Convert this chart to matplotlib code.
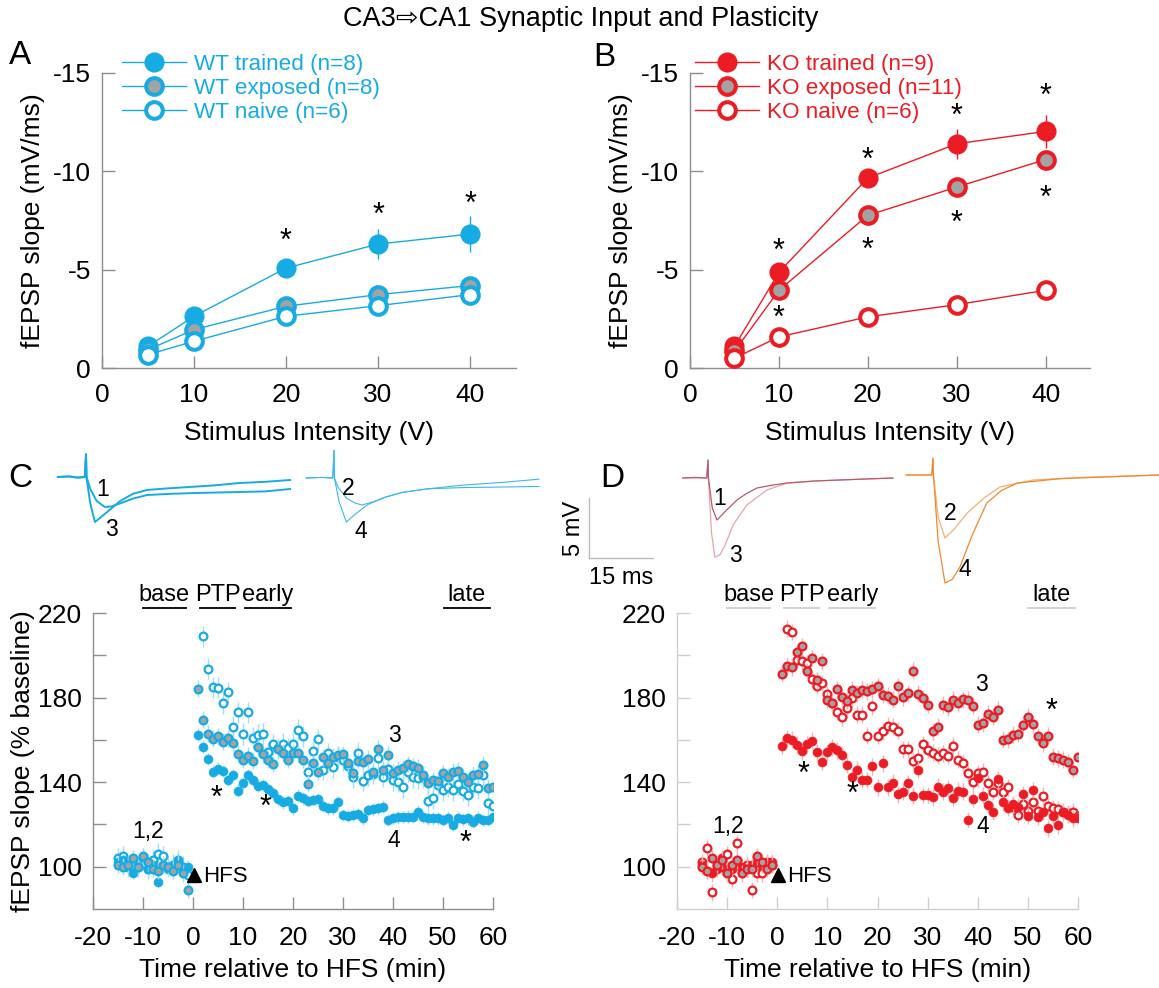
import numpy as np
import matplotlib
matplotlib.use("Agg")
import matplotlib.pyplot as plt
from matplotlib.lines import Line2D

plt.rcParams['font.family'] = ['Liberation Sans', 'DejaVu Sans']
plt.rcParams['axes.unicode_minus'] = False

# ---------------- data ----------------
intensity = [5, 10, 20, 30, 40]
wt_trained = [-1.1, -2.63, -5.08, -6.3, -6.81]
wt_trained_err = [0.2, 0.25, 0.3, 0.78, 0.9]
wt_exposed = [-0.93, -1.95, -3.14, -3.73, -4.19]
wt_naive = [-0.68, -1.36, -2.63, -3.17, -3.73]
ko_trained = [-1.1, -4.86, -9.66, -11.4, -12.03]
ko_trained_err = [0.2, 0.3, 0.3, 0.76, 0.85]
ko_exposed = [-0.85, -3.95, -7.76, -9.2, -10.6]
ko_naive = [-0.5, -1.58, -2.6, -3.22, -3.95]

time_base = list(range(-15, 0))
time_post = list(range(1, 61))

wt_tr_base = [102, 103, 101, 97, 100, 104, 99, 101, 93, 100, 99, 100, 102, 98, 100]
wt_ex_base = [101, 100, 101, 104, 100, 105, 102, 99, 98, 101, 100, 98, 101, 97, 89]
wt_na_base = [104, 105, 100, 103, 100, 104, 99, 103, 106, 105, 100, 101, 103, 100, 96]
wt_tr_post = [162.4, 156.8, 151, 145, 146.3, 145.3, 141, 143.4, 136, 139.5,
              143.4, 141, 138.4, 138.7, 136.8, 134.7, 131.9, 130.5, 131.1, 127.6,
              133.6, 132.4, 131.1, 131.6, 132.1, 128.7, 127.6, 127.6, 130.5, 124.5,
              124, 124.5, 125, 122.9, 126.8, 127.2, 127.6, 128.4, 122.1, 122.9,
              123.4, 123.5, 123.7, 123.5, 126, 123.5, 122.9, 122.9, 122.9, 122.1,
              123.2, 119.7, 123.2, 122.4, 122.9, 121.3, 123.2, 122.1, 122.1, 123.4]
wt_ex_post = [184.2, 169.5, 162.8, 160.5, 161.6, 159.2, 160.8, 158.7, 153.4, 150.5,
              152.4, 150.2, 156.4, 153.2, 150.5, 148.6, 155.6, 154, 150.5, 154,
              153.7, 150.5, 139.2, 149, 145, 151.8, 149, 152.1, 152.9, 153.2,
              149, 144.5, 150, 149.7, 151, 145, 155.7, 145.8, 152.9, 144.5,
              145.8, 146.6, 148.6, 147.4, 146.9, 143.4, 139.5, 141, 140.6, 144.2,
              142.6, 145, 145.5, 142.6, 140.3, 143.4, 143.9, 148.2, 137.4, 137.9]
wt_na_post = [np.nan, 209, 193.6, 184.8, 184.6, 177.4, 182.6, 166.3, 173.1, 162.8,
              173.1, 161.1, 162.4, 162.8, 154.2, 158, 156, 158.1, 156, 158.1,
              164.7, 161.6, 145, 154.5, 160.3, 145.8, 153.7, 147.1, 152.1, 150.5,
              147.4, 142.3, 154, 140.7, 143.4, 143.9, 151.3, 142.6, 146.3, 141,
              140.3, 137.6, 145, 142.3, 141.8, 142.2, 131.3, 132.4, 138.7, 136.3,
              137.9, 136.3, 139, 136, 133.9, 137.9, 137.1, 143.4, 130, 128.7]

ko_tr_base = [101, 98, 97, 99, 100, 98, 99, 101, 100, 99, 101, 102, 101, 101, 102]
ko_ex_base = [100, 98, 104, 101, 103, 97, 101, 103, 97, 99, 99, 105, 102, 99, 101]
ko_na_base = [102, 109, 88, 100, 104, 106, 94, 111, 98, 101, 89, 97, 97, 102, 101]
ko_tr_post = [157.3, 160.8, 160, 157.6, 154.5, 157.9, 159.5, 154.2, 149.7, 154.2,
              156.4, 155, 152.9, 148.2, 142.3, 145.8, 141, 141, 147.4, 137.6,
              149, 137.6, 139.8, 134.3, 135.5, 139.5, 133.5, 145.8, 133.9, 133.9,
              132.8, 137.9, 135.5, 137.1, 132.7, 136, 135.5, 122.1, 132.1, 141.8,
              133.5, 129.2, 126, 141.4, 130.5, 127.9, 129.5, 128.4, 134.4, 124.2,
              136.3, 123.7, 126, 118.2, 124.2, 119.7, 125.7, 124.5, 122.9, 122.9]
ko_ex_post = [191.3, 194.7, 194.4, 201.4, 204.2, 192.4, 198.7, 188.1, 197.1, 179,
              177.4, 184, 180.2, 178.5, 183.7, 182.1, 183.7, 182.9, 184, 185.3,
              181.3, 180.8, 179, 185.3, 180.1, 182.1, 192.8, 181.8, 179.7, 176.6,
              164, 166.3, 176.6, 175.5, 179, 177.4, 179.3, 179, 176.1, 167.1,
              167.9, 172.3, 171, 174.2, 160, 160.3, 162.4, 162.8, 167.1, 171,
              167.4, 161.6, 158.4, 162, 152.1, 151.3, 150.5, 149.4, 145.8, 152.1]
ko_na_post = [np.nan, 212.6, 211, 197.9, 197.1, 196.3, 188.7, 185.6, 186.9, 181.6,
              177.4, 173.4, 170.7, 175, 179.7, 171.8, 171.8, 162, 175.8, 162,
              164, 166.6, 166.3, 164.3, 155.6, 155.6, 150.2, 151.6, 157.9, 155.3,
              154, 152.6, 153.7, 152.6, 157.3, 150.5, 149, 144.2, 140.3, 144.2,
              145, 139.5, 135.5, 139.8, 135.5, 137.6, 128.4, 124.5, 129.7, 126.5,
              130.8, 126.5, 133.5, 128.7, 127.6, 127.2, 126, 125.3, 126, 124]

sem_wt = [3, 4, 5]   # trained, exposed, naive
sem_ko = [4, 4, 4]

periods = ['base', 'PTP', 'early', 'late']
period_start = [-10, 1.4, 10.4, 50.1]
period_end = [-1.4, 8.4, 19.6, 59.4]

# example traces (ms, mV), relative to stimulus
c1_t = [-6.6, -4, -2, -0.3, 0, 0.15, 1.0, 2.5, 4.4, 6, 8, 11, 14.3, 20, 26, 36, 42, 47.8]
c1_v = [0, 0.05, -0.05, 0, 1.9, 0, -1.0, -2.0, -2.5, -2.45, -2.2, -1.8, -1.5, -1.4, -1.33, -1.25, -1.2, -1.0]
c3_t = [-6.6, -4, -2, -0.3, 0, 0.1, 1.0, 2.1, 4, 6, 8, 11, 14.3, 19, 24.4, 30, 36, 42, 47.8]
c3_v = [0, 0.05, -0.05, 0, 1.9, 0, -2.2, -3.75, -3.2, -2.6, -2.0, -1.4, -1.08, -0.95, -0.83, -0.7, -0.5, -0.4, -0.25]
c2_t = [-6.5, -3, -0.3, 0, 0.1, 1, 3, 5, 6.6, 9, 12, 16, 22, 30, 40, 48]
c2_v = [0, 0.05, 0, 2.3, 0, -0.8, -1.7, -2.1, -2.25, -2.0, -1.6, -1.2, -0.9, -0.8, -0.75, -0.7]
c4_t = [-6.5, -3, -0.3, 0, 0.1, 1.2, 2.9, 5, 8, 12, 16, 22, 30, 40, 48]
c4_v = [0, 0.05, 0, 2.3, 0, -2.0, -3.67, -3.0, -2.2, -1.6, -1.2, -0.9, -0.6, -0.35, -0.1]
d1_t = [-5.9, -3, -0.3, 0, 0.1, 1, 2.1, 4, 6.8, 9, 11.5, 15, 18.5, 25, 32, 43.3]
d1_v = [0, 0.05, 0, 1.5, 0, -2.5, -3.5, -2.8, -1.83, -1.3, -0.83, -0.6, -0.42, -0.25, -0.15, 0]
d3_t = [-5.9, -0.3, 0, 0.1, 0.8, 1.6, 2.8, 4, 5.9, 9.1, 13.8, 18.5, 25, 32, 43.3]
d3_v = [0, 0, 1.5, 0, -4.5, -6.6, -6.4, -5.6, -3.9, -2.25, -1.0, -0.42, -0.25, -0.15, 0]
d2_t = [-6.3, -0.3, 0, 0.1, 1.2, 2.8, 5, 8, 12, 15.7, 23.4, 35, 53]
d2_v = [0, 0, 1.4, 0, -3.5, -5.25, -4.5, -3.17, -1.9, -1.0, -0.42, -0.2, 0]
d4_t = [-6.3, -0.3, 0, 0.1, 1.2, 2.8, 4.5, 6.3, 9.4, 12.6, 16, 19.7, 30, 53]
d4_v = [0, 0, 1.4, 0, -5.5, -9.0, -8.7, -7.67, -4.83, -2.33, -1.3, -0.67, -0.3, 0]

# ---------------- styling ----------------
BLUE = '#17ABE3'
BLUE_L = '#A5DCF3'
RED = '#EC1C24'
RED_L = '#F6B3B5'
GRAY = '#A3A3A3'
SPINE = '#8E8E8E'
SPINE_L = '#CFCFCF'
TICK_FS = 19
LABEL_FS = 19

W, H = 1159, 988
fig = plt.figure(figsize=(W / 100, H / 100), dpi=100)


def rect(l, t, r, b):
    return [l / W, 1 - b / H, (r - l) / W, (b - t) / H]


def ftext(x, y, s, **kw):
    fig.text(x / W, 1 - y / H, s, **kw)


def style_axes(ax, spine_col):
    for s in ['top', 'right']:
        ax.spines[s].set_visible(False)
    for s in ['left', 'bottom']:
        ax.spines[s].set_color(spine_col)
        ax.spines[s].set_linewidth(1.0)
    ax.tick_params(direction='in', length=9, width=1, color=spine_col,
                   labelsize=TICK_FS, labelcolor='black')


ftext(581, 19, 'CA3\u21e8CA1 Synaptic Input and Plasticity', fontsize=19.5,
      ha='center', va='center')

# ---------------- Panel A / B ----------------
def io_panel(ax, col, tr, tr_err, ex, na, labels, star_pos, leg_x):
    style_axes(ax, SPINE)
    ax.set_xlim(0, 45)
    ax.set_ylim(0, -15)
    ax.set_xticks([0, 10, 20, 30, 40])
    ax.set_yticks([-15, -10, -5, 0])
    ax.tick_params(axis='x', pad=11)
    ax.tick_params(axis='y', pad=8)
    ax.errorbar(intensity, tr, yerr=tr_err, color=col, lw=1, marker='o',
                ms=13.5, mfc=col, mec=col, mew=1, capsize=0, zorder=3)
    h2, = ax.plot(intensity, ex, color=col, lw=1, marker='o', ms=12,
                  mfc=GRAY, mec=col, mew=2.9, zorder=4)
    h3, = ax.plot(intensity, na, color=col, lw=1, marker='o', ms=12,
                  mfc='white', mec=col, mew=2.9, zorder=5)
    hl1 = Line2D([], [], color=col, lw=1, marker='o', ms=13.5, mfc=col, mec=col, mew=1)
    leg = ax.legend([hl1, h2, h3], labels, loc='upper left', frameon=False,
                    bbox_to_anchor=(leg_x / W, 1 - 54 / H),
                    bbox_transform=fig.transFigure, fontsize=16.2,
                    handlelength=2.85, handletextpad=0.35, labelspacing=0.14,
                    borderpad=0, borderaxespad=0, numpoints=1)
    for t in leg.get_texts():
        t.set_color(col)
    for (x, y) in star_pos:
        ax.text(x, y, '*', fontsize=22, ha='center', va='center', color='black')
    ax.set_xlabel('Stimulus Intensity (V)', fontsize=LABEL_FS, labelpad=10)
    ax.set_ylabel('fEPSP slope (mV/ms)', fontsize=LABEL_FS, labelpad=6)


axA = fig.add_axes(rect(102, 73, 516, 368))
io_panel(axA, BLUE, wt_trained, wt_trained_err, wt_exposed, wt_naive,
         ['WT trained (n=8)', 'WT exposed (n=8)', 'WT naive (n=6)'],
         [(20, -6.4), (30, -7.75), (40, -8.3)], 122)
axB = fig.add_axes(rect(690, 73, 1090, 368))
io_panel(axB, RED, ko_trained, ko_trained_err, ko_exposed, ko_naive,
         ['KO trained (n=9)', 'KO exposed (n=11)', 'KO naive (n=6)'],
         [(10, -5.9), (20, -10.55), (30, -12.75), (40, -13.77),
          (10, -2.5), (20, -5.97), (30, -7.33), (40, -8.6)], 695)
ftext(20, 56, 'A', fontsize=24, ha='center', va='center')
ftext(604, 58, 'B', fontsize=24, ha='center', va='center')

# ---------------- traces ----------------
PX_MS = 4.27
PX_MV = 12.0


def trace_axes(ox, oy, t0, t1, v0, v1):
    l = ox + t0 * PX_MS
    r = ox + t1 * PX_MS
    top = oy - v1 * PX_MV
    bot = oy - v0 * PX_MV
    ax = fig.add_axes(rect(l, top, r, bot))
    ax.set_xlim(t0, t1)
    ax.set_ylim(v0, v1)
    ax.axis('off')
    return ax


tc1 = trace_axes(86, 477, -8, 50, -5, 3)
tc1.plot(c1_t, c1_v, color=BLUE, lw=1.4)
tc1.plot(c3_t, c3_v, color=BLUE, lw=1.4)
tc2 = trace_axes(334, 478, -8, 50, -5, 3)
tc2.plot(c2_t, c2_v, color='#3DB8EA', lw=0.8)
tc2.plot(c4_t, c4_v, color='#3DB8EA', lw=0.8)
td1 = trace_axes(708, 478, -8, 46, -8, 3)
td1.plot(d3_t, d3_v, color='#EBA3AA', lw=0.9)
td1.plot(d1_t, d1_v, color='#B9596A', lw=0.9)
td2 = trace_axes(933, 475, -8, 54.4, -10, 3)
td2.plot(d2_t, d2_v, color='#F6AE72', lw=0.9)
td2.plot(d4_t, d4_v, color='#EE8A2E', lw=0.9)

sb = trace_axes(589, 558, -1, 20, -1, 6)
sb.plot([0, 0], [0, 5], color='#BBBBBB', lw=1)
sb.plot([0, 15], [0, 0], color='#BBBBBB', lw=1)
ftext(574, 528, '5 mV', fontsize=17, rotation=90, ha='center', va='center')
ftext(621, 578, '15 ms', fontsize=17, ha='center', va='center')

for (x, y, s) in [(103, 489, '1'), (111, 530, '3'), (348, 488, '2'), (361, 532, '4'),
                  (720, 498, '1'), (735, 555, '3'), (950, 513, '2'), (965, 570, '4')]:
    ftext(x, y, s, fontsize=16.5, ha='center', va='center')
ftext(20, 478, 'C', fontsize=24, ha='center', va='center')
ftext(612, 478, 'D', fontsize=24, ha='center', va='center')

# ---------------- Panel C / D ----------------
def ltp_panel(ax, col, col_l, spine_col, bar_col, tr_b, ex_b, na_b, tr_p, ex_p, na_p,
              sem, lab_pos, stars, ylabel):
    style_axes(ax, spine_col)
    ax.set_xlim(-20, 60)
    ax.set_ylim(80, 220)
    ax.set_xticks(range(-20, 61, 10))
    ax.set_yticks(range(100, 221, 20))
    ax.set_yticklabels(['100', '', '140', '', '180', '', '220'])
    ax.tick_params(axis='x', pad=12)
    ax.tick_params(axis='y', pad=8)
    series = [(na_b, na_p, 'white', col, sem[2], 1),
              (tr_b, tr_p, col, col, sem[0], 2),
              (ex_b, ex_p, GRAY, col, sem[1], 3)]
    for (b, p, fc, ec, e, z) in series:
        for tt, vv in [(time_base, b), (time_post, p)]:
            ax.errorbar(tt, vv, yerr=e, fmt='none', ecolor=col_l, elinewidth=1,
                        capsize=0, zorder=z)
            if fc == col:
                ax.plot(tt, vv, ls='none', marker='o', ms=6.4, mfc=fc, mec=ec,
                        mew=0.5, zorder=z + 0.5)
            else:
                ax.plot(tt, vv, ls='none', marker='o', ms=5.6, mfc=fc, mec=ec,
                        mew=1.6, zorder=z + 0.5)
    for name, s0, s1 in zip(periods, period_start, period_end):
        ax.plot([s0, s1], [222.4, 222.4], color=bar_col, lw=1.3, clip_on=False)
        ax.text((s0 + s1) / 2, 225.6, name, fontsize=17, ha='center', va='baseline')
    ax.plot([0.2], [96], marker='^', ms=10, color='black', ls='none', zorder=10,
            clip_on=False)
    ax.text(2.0, 95.5, 'HFS', fontsize=16, ha='left', va='center')
    for (x, y, s) in lab_pos:
        ax.text(x, y, s, fontsize=16.5, ha='center', va='center')
    for (x, y) in stars:
        ax.text(x, y, '*', fontsize=22, ha='center', va='center')
    ax.set_xlabel('Time relative to HFS (min)', fontsize=LABEL_FS, labelpad=6)
    if ylabel:
        ax.set_ylabel('fEPSP slope (% baseline)', fontsize=LABEL_FS, labelpad=2)


axC = fig.add_axes(rect(93, 613, 493, 909))
ltp_panel(axC, BLUE, BLUE_L, SPINE, 'black', wt_tr_base, wt_ex_base, wt_na_base,
          wt_tr_post, wt_ex_post, wt_na_post, sem_wt,
          [(-9, 116.6, '1,2'), (40.2, 162, '3'), (40.2, 112.6, '4')],
          [(4.7, 132), (14.5, 128), (54.5, 111)], True)
axD = fig.add_axes(rect(677, 613, 1078, 909))
ltp_panel(axD, RED, RED_L, SPINE_L, SPINE_L, ko_tr_base, ko_ex_base, ko_na_base,
          ko_tr_post, ko_ex_post, ko_na_post, sem_ko,
          [(-9.9, 119, '1,2'), (40.8, 186.4, '3'), (41, 119, '4')],
          [(5.3, 143.5), (15.1, 134), (54.7, 173)], False)

fig.savefig('out.png', dpi=100)
